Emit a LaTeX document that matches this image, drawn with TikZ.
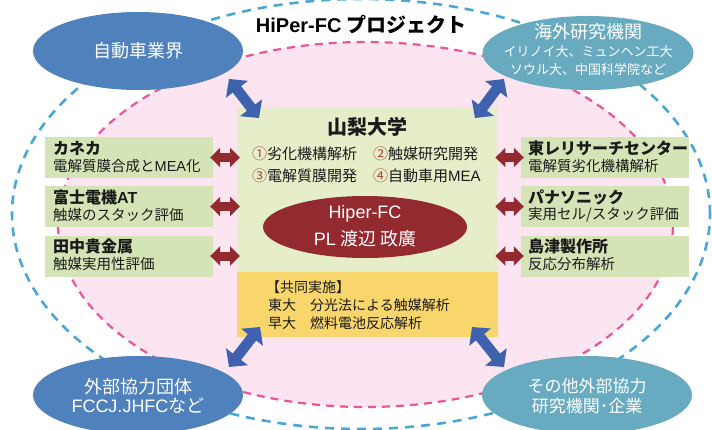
\documentclass[tikz,border=0pt]{standalone}
\usepackage{fontspec}
\setmainfont{Noto Sans CJK JP}
\newfontfamily\lat{Liberation Sans}
\usetikzlibrary{shapes.geometric,arrows.meta}
\definecolor{ellblue}{HTML}{4F81BD}
\definecolor{ellteal}{HTML}{68ABC1}
\definecolor{pinkfill}{HTML}{FCE5F0}
\definecolor{pinkline}{HTML}{EA5499}
\definecolor{blueline}{HTML}{4AA6D4}
\definecolor{cgreen}{HTML}{E5EDC9}
\definecolor{sgreen}{HTML}{D5E4B6}
\definecolor{cyellow}{HTML}{F9D66B}
\definecolor{dred}{HTML}{922A2F}
\definecolor{arrblue}{HTML}{3E62AE}
\definecolor{numred}{HTML}{A8453C}
\definecolor{txt}{HTML}{1A1A1A}
\newcommand{\fsz}[1]{\fontsize{#1}{#1}\selectfont}
\begin{document}
\begin{tikzpicture}[x=1pt,y=-1pt,
  bubble/.style={ellipse, inner sep=0pt, text=white, minimum width=210pt, minimum height=78pt},
  sidebox/.style={rectangle, fill=sgreen, inner sep=0pt, minimum width=168pt, minimum height=41pt},
  ttl/.style={anchor=west, inner sep=0pt, text=txt, font=\fsz{16}\bfseries},
  sub/.style={anchor=west, inner sep=0pt, text=txt, font=\fsz{14.5}},
  wtxt/.style={inner sep=0pt, text=white},
  redarrow/.style={draw=dred, line width=9pt, {Triangle[width=19pt,length=10pt]}-{Triangle[width=19pt,length=10pt]}, shorten <=-3pt, shorten >=-3pt},
  bluearrow/.style={draw=arrblue, line width=10.5pt, {Triangle[width=27pt,length=13pt]}-{Triangle[width=27pt,length=13pt]}}
]
\useasboundingbox (0,0) rectangle (712,429);
% background rings
\draw[blueline, line width=2.6pt, dash pattern=on 9pt off 7pt] (361,214) ellipse [x radius=349pt, y radius=215pt];
\fill[pinkfill] (365.5,224.5) ellipse [x radius=307.5pt, y radius=182.5pt];
\draw[pinkline, line width=2.2pt, dash pattern=on 8pt off 6pt] (365.5,224.5) ellipse [x radius=307.5pt, y radius=182.5pt];

% title
\node[inner sep=0pt, font=\fsz{20}\bfseries, text=black] (title) at (361,25) {{\lat HiPer-FC} プロジェクト};

% central boxes
\node[anchor=north west, fill=cgreen, inner sep=0pt, minimum width=261pt, minimum height=165pt] (yamanashi) at (237,107) {};
\node[anchor=north west, fill=cyellow, inner sep=0pt, minimum width=261pt, minimum height=65pt] (joint) at (237,272) {};

\node[inner sep=0pt, font=\fsz{20}\bfseries, text=txt] (yname) at (367,127) {山梨大学};
\node[anchor=west, inner sep=0pt, font=\fsz{15}, text=txt] (t1) at (252,154) {\textcolor{numred}{①}劣化機構解析};
\node[anchor=west, inner sep=0pt, font=\fsz{15}, text=txt] (t2) at (373,154) {\textcolor{numred}{②}触媒研究開発};
\node[anchor=west, inner sep=0pt, font=\fsz{15}, text=txt] (t3) at (252,176) {\textcolor{numred}{③}電解質膜開発};
\node[anchor=west, inner sep=0pt, font=\fsz{15}, text=txt] (t4) at (373,176) {\textcolor{numred}{④}自動車用{\lat MEA}};

\node[ellipse, fill=dred, inner sep=0pt, minimum width=204pt, minimum height=62pt] (pl) at (365,227) {};
\node[wtxt, font=\fsz{18}] (pl1) at (365,214) {\lat Hiper-FC};
\node[wtxt, font=\fsz{18}] (pl2) at (365,239) {{\lat PL} 渡辺 政廣};

\node[anchor=west, inner sep=0pt, font=\fsz{14}, text=txt] (j1) at (266,287) {【共同実施】};
\node[anchor=west, inner sep=0pt, font=\fsz{14}, text=txt] (j2) at (268,305) {東大\hspace{14pt}分光法による触媒解析};
\node[anchor=west, inner sep=0pt, font=\fsz{14}, text=txt] (j3) at (268,323) {早大\hspace{14pt}燃料電池反応解析};

% outer bubbles
\node[bubble, fill=ellblue] (car) at (138,51) {};
\node[wtxt, font=\fsz{18}] (cart) at (138,51) {自動車業界};
\node[bubble, fill=ellteal, minimum width=211pt, minimum height=74pt] (overseas) at (588,53) {};
\node[wtxt, font=\fsz{18}] (ov1) at (588,32) {海外研究機関};
\node[wtxt, font=\fsz{13}] (ov2) at (588,52) {イリノイ大、ミュンヘン工大};
\node[wtxt, font=\fsz{13}] (ov3) at (588,70) {ソウル大、中国科学院など};
\node[bubble, fill=ellblue] (ext) at (138,395) {};
\node[wtxt, font=\fsz{18}] (ext1) at (138,387) {外部協力団体};
\node[wtxt, font=\fsz{18}] (ext2) at (138,406) {{\lat FCCJ.JHFC}など};
\node[bubble, fill=ellteal] (other) at (587,395) {};
\node[wtxt, font=\fsz{17}] (oth1) at (587,386) {その他外部協力};
\node[wtxt, font=\fsz{17}] (oth2) at (587,406) {研究機関･企業};

% side boxes left
\node[sidebox] (kaneka) at (129,157.5) {};
\node[ttl] (kaneka-t) at (53,148) {カネカ};
\node[sub] (kaneka-s) at (53,166) {電解質膜合成と{\lat MEA}化};
\node[sidebox] (fuji) at (129,206.5) {};
\node[ttl] (fuji-t) at (53,197) {富士電機{\lat AT}};
\node[sub] (fuji-s) at (53,215) {触媒のスタック評価};
\node[sidebox] (tanaka) at (129,256) {};
\node[ttl] (tanaka-t) at (53,246.5) {田中貴金属};
\node[sub] (tanaka-s) at (53,264.5) {触媒実用性評価};
% side boxes right
\node[sidebox] (toray) at (605,157.5) {};
\node[ttl] (toray-t) at (528,148) {東レリサーチセンター};
\node[sub] (toray-s) at (528,166) {電解質劣化機構解析};
\node[sidebox] (pana) at (605,206.5) {};
\node[ttl] (pana-t) at (528,197) {パナソニック};
\node[sub] (pana-s) at (528,215) {実用セル/スタック評価};
\node[sidebox] (shima) at (605,256) {};
\node[ttl] (shima-t) at (528,246.5) {島津製作所};
\node[sub] (shima-s) at (528,264.5) {反応分布解析};

% red arrows
\draw[redarrow] (kaneka.east) -- (kaneka.east -| yamanashi.west);
\draw[redarrow] (fuji.east) -- (fuji.east -| yamanashi.west);
\draw[redarrow] (tanaka.east) -- (tanaka.east -| yamanashi.west);
\draw[redarrow] (toray.west -| yamanashi.east) -- (toray.west);
\draw[redarrow] (pana.west -| yamanashi.east) -- (pana.west);
\draw[redarrow] (shima.west -| yamanashi.east) -- (shima.west);

% blue arrows
\coordinate (a1) at (229,79);  \coordinate (b1) at (259,118);
\coordinate (a2) at (504,79);  \coordinate (b2) at (475,118);
\coordinate (a3) at (229,367); \coordinate (b3) at (260,327);
\coordinate (a4) at (504,367); \coordinate (b4) at (472,327);
\draw[bluearrow] (a1) -- (b1);
\draw[bluearrow] (a2) -- (b2);
\draw[bluearrow] (a3) -- (b3);
\draw[bluearrow] (a4) -- (b4);
\end{tikzpicture}
\end{document}
